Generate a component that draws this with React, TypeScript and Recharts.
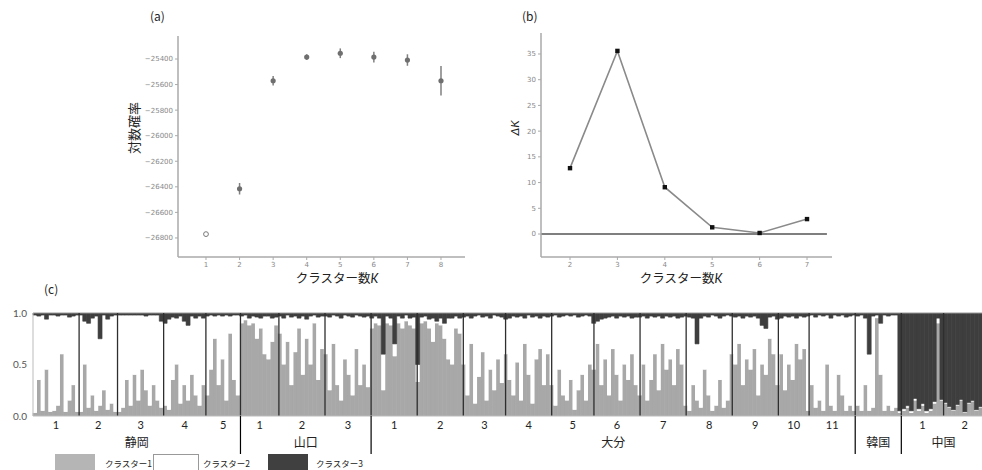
import React from 'react';
import { ScatterChart, Scatter, XAxis, YAxis, ErrorBar, LineChart, Line, ReferenceLine, BarChart, Bar } from 'recharts';

// ---------- (a) log probability vs K ----------
const kValuesA = [1, 2, 3, 4, 5, 6, 7, 8];
const logProbMean = [-26770, -26415, -25570, -25385, -25355, -25385, -25408, -25570];
const logProbSd = [0, 45, 38, 22, 38, 42, 45, 115];
const logProbTicks = [-26800, -26600, -26400, -26200, -26000, -25800, -25600, -25400];

// ---------- (b) delta K ----------
const kValuesB = [2, 3, 4, 5, 6, 7];
const deltaK = [12.8, 35.6, 9.1, 1.3, 0.2, 2.9];
const deltaKTicks = [0, 5, 10, 15, 20, 25, 30, 35];

// ---------- (c) STRUCTURE bar plot ----------
const popLabels = ['1', '2', '3', '4', '5', '1', '2', '3', '1', '2', '3', '4', '5', '6', '7', '8', '9', '10', '11', '', '1', '2'];
const regionNames = ['静岡', '山口', '大分', '韓国', '中国'];
const regionPopCounts = [5, 3, 11, 1, 2];
const clusterTicks = [0, 0.5, 1];

const cluster1ByPop = [
  [0.03, 0.35, 0.05, 0.45, 0.04, 0.05, 0.1, 0.6, 0.04, 0.15, 0.3, 0.04],
  [0.04, 0.5, 0.08, 0.2, 0.05, 0.1, 0.25, 0.06, 0.12, 0.04],
  [0.04, 0.08, 0.35, 0.1, 0.4, 0.15, 0.45, 0.25, 0.1, 0.3, 0.15, 0.08],
  [0.1, 0.06, 0.35, 0.5, 0.12, 0.3, 0.15, 0.4, 0.2, 0.1, 0.3],
  [0.2, 0.45, 0.75, 0.3, 0.55, 0.15, 0.8, 0.35, 0.2],
  [0.9, 0.93, 0.88, 0.9, 0.75, 0.85, 0.6, 0.55, 0.72, 0.88],
  [0.8, 0.5, 0.72, 0.3, 0.62, 0.85, 0.4, 0.75, 0.5, 0.9, 0.35, 0.65],
  [0.6, 0.25, 0.7, 0.3, 0.15, 0.55, 0.4, 0.2, 0.65, 0.3, 0.5, 0.28],
  [0.85, 0.9, 0.88, 0.25, 0.9, 0.88, 0.58, 0.9, 0.85, 0.92, 0.88, 0.85],
  [0.33, 0.9, 0.92, 0.85, 0.72, 0.9, 0.88, 0.75, 0.55, 0.5, 0.85, 0.8],
  [0.5, 0.2, 0.7, 0.12, 0.38, 0.62, 0.15, 0.45, 0.25, 0.55, 0.32],
  [0.6, 0.35, 0.2, 0.52, 0.15, 0.7, 0.4, 0.12, 0.55, 0.65, 0.3, 0.6],
  [0.3, 0.1, 0.45, 0.2, 0.15, 0.35, 0.06, 0.25, 0.4, 0.15, 0.5],
  [0.45, 0.7, 0.3, 0.55, 0.2, 0.65, 0.4, 0.15, 0.5, 0.35, 0.6, 0.3],
  [0.2, 0.5, 0.15, 0.35, 0.6, 0.25, 0.7, 0.45, 0.55, 0.3, 0.65, 0.5],
  [0.1, 0.05, 0.3, 0.15, 0.08, 0.45, 0.2, 0.05, 0.1, 0.35, 0.08, 0.15],
  [0.6, 0.5, 0.7, 0.3, 0.55, 0.45, 0.65, 0.2, 0.5, 0.4, 0.75, 0.6],
  [0.3, 0.6, 0.25, 0.5, 0.35, 0.7, 0.55, 0.65],
  [0.05, 0.3, 0.08, 0.15, 0.05, 0.5, 0.1, 0.05, 0.4, 0.2, 0.05, 0.1],
  [0.05, 0.1, 0.05, 0.3, 0.05, 0.08, 0.95, 0.4, 0.05, 0.1, 0.05, 0.08],
  [0.03, 0.05, 0.08, 0.03, 0.15, 0.05, 0.1, 0.03, 0.05, 0.12, 0.9],
  [0.15, 0.12, 0.08, 0.05, 0.1, 0.15, 0.03, 0.12, 0.14, 0.05, 0.08],
];

const cluster3ByPop = [
  [0.02, 0.03, 0.02, 0.06, 0.02, 0.02, 0.03, 0.02, 0.02, 0.04, 0.03, 0.02],
  [0.02, 0.08, 0.1, 0.05, 0.03, 0.25, 0.02, 0.06, 0.03, 0.02],
  [0.02, 0.02, 0.02, 0.02, 0.02, 0.02, 0.02, 0.03, 0.02, 0.02, 0.02, 0.08],
  [0.1, 0.06, 0.04, 0.05, 0.03, 0.08, 0.12, 0.03, 0.05, 0.03, 0.05],
  [0.03, 0.02, 0.03, 0.02, 0.03, 0.02, 0.03, 0.02, 0.02],
  [0.03, 0.02, 0.05, 0.03, 0.04, 0.05, 0.03, 0.03, 0.05, 0.04],
  [0.03, 0.05, 0.02, 0.04, 0.03, 0.05, 0.03, 0.06, 0.03, 0.02, 0.04, 0.03],
  [0.03, 0.04, 0.02, 0.03, 0.05, 0.02, 0.03, 0.04, 0.02, 0.03, 0.04, 0.03],
  [0.05, 0.03, 0.05, 0.4, 0.03, 0.05, 0.3, 0.03, 0.05, 0.02, 0.05, 0.04],
  [0.5, 0.04, 0.03, 0.06, 0.05, 0.08, 0.05, 0.1, 0.05, 0.05, 0.03, 0.05],
  [0.04, 0.03, 0.05, 0.03, 0.02, 0.04, 0.03, 0.05, 0.02, 0.03, 0.04],
  [0.06, 0.05, 0.03, 0.04, 0.03, 0.05, 0.02, 0.04, 0.03, 0.05, 0.03, 0.04],
  [0.03, 0.02, 0.04, 0.03, 0.02, 0.03, 0.02, 0.04, 0.03, 0.02, 0.03],
  [0.1, 0.08, 0.06, 0.05, 0.04, 0.03, 0.05, 0.03, 0.04, 0.03, 0.05, 0.04],
  [0.04, 0.03, 0.05, 0.03, 0.04, 0.03, 0.05, 0.03, 0.04, 0.03, 0.05, 0.04],
  [0.03, 0.04, 0.05, 0.3, 0.05, 0.03, 0.04, 0.02, 0.03, 0.05, 0.03, 0.02],
  [0.03, 0.04, 0.03, 0.05, 0.03, 0.04, 0.03, 0.05, 0.12, 0.15, 0.04, 0.03],
  [0.06, 0.05, 0.03, 0.04, 0.03, 0.05, 0.03, 0.04],
  [0.03, 0.02, 0.04, 0.02, 0.03, 0.02, 0.05, 0.02, 0.03, 0.02, 0.04, 0.03],
  [0.02, 0.03, 0.02, 0.05, 0.4, 0.03, 0.02, 0.1, 0.02, 0.03, 0.02, 0.02],
  [0.95, 0.93, 0.9, 0.95, 0.83, 0.93, 0.88, 0.95, 0.93, 0.86, 0.05],
  [0.84, 0.87, 0.91, 0.94, 0.89, 0.84, 0.96, 0.87, 0.85, 0.94, 0.91],
];

// ---------- derived tables ----------
const scatterRows = kValuesA.map((k, i) => ({ k, v: logProbMean[i], err: logProbSd[i] }));
const hollowRows = scatterRows.filter((r) => r.k === 1);
const filledRows = scatterRows.filter((r) => r.k !== 1);
const deltaRows = kValuesB.map((k, i) => ({ k, d: deltaK[i] }));

const popCounts = cluster1ByPop.map((a) => a.length);
const popEnds: number[] = [];
{
  let acc = 0;
  popCounts.forEach((c) => { acc += c; popEnds.push(acc); });
}
const N = popEnds[popEnds.length - 1];
const popStarts = popEnds.map((e, i) => e - popCounts[i]);
const popCenters = popStarts.map((s, i) => s + popCounts[i] / 2);
const popBoundaries = popEnds.slice(0, -1);

const regionEnds: number[] = [];
const regionCenters: number[] = [];
{
  let p = 0;
  regionPopCounts.forEach((rc) => {
    const s = popStarts[p];
    const e = popEnds[p + rc - 1];
    regionEnds.push(e);
    regionCenters.push((s + e) / 2);
    p += rc;
  });
}
const regionBoundaries = regionEnds.slice(0, -1);

const structureRows: { id: number; c1: number; c2: number; c3: number }[] = [];
cluster1ByPop.forEach((arr, p) => {
  arr.forEach((c1, i) => {
    const c3 = cluster3ByPop[p][i];
    structureRows.push({ id: structureRows.length, c1, c2: Math.max(0, 1 - c1 - c3), c3 });
  });
});

const C1 = '#a8a8a8';
const C3 = '#3e3e3e';
const jp = '"Noto Sans CJK JP", "Noto Sans", sans-serif';
const num = 'Lato, "Open Sans", sans-serif';

const FilledDot = (p: any) => <circle cx={p.cx} cy={p.cy} r={2.6} fill="#6f6f6f" />;
const HollowDot = (p: any) => <circle cx={p.cx} cy={p.cy} r={2.4} fill="none" stroke="#777" strokeWidth={1} />;
const SquareDot = (p: any) => <rect x={p.cx - 2.2} y={p.cy - 2.2} width={4.4} height={4.4} fill="#111" />;

const smallTick = { fontSize: 7, fill: '#888', fontFamily: 'DejaVu Sans, sans-serif' };

export default function App() {
  return (
    <div style={{ position: 'absolute', left: 0, top: 0, width: 982, height: 470, background: '#fff', overflow: 'hidden', fontFamily: jp }}>
      {/* (a) */}
      <div style={{ position: 'absolute', left: 0, top: 0 }}>
        <ScatterChart width={480} height={290} margin={{ top: 36, right: 15, bottom: 0, left: 0 }}>
          <XAxis type="number" dataKey="k" domain={[0.166, 8.715]} ticks={kValuesA} allowDataOverflow height={33}
            tickSize={3} tickMargin={2} axisLine={{ stroke: '#aaa', strokeWidth: 1.5 }} tickLine={{ stroke: '#aaa' }} tick={smallTick} />
          <YAxis type="number" dataKey="v" domain={[-26949, -25220]} ticks={logProbTicks} allowDataOverflow width={178}
            tickSize={3} tickMargin={2} axisLine={{ stroke: '#aaa', strokeWidth: 1.5 }} tickLine={{ stroke: '#aaa' }} tick={smallTick}
            tickFormatter={(v: number) => '\u2212' + Math.abs(v)} />
          <Scatter data={filledRows} shape={FilledDot} isAnimationActive={false}>
            <ErrorBar dataKey="err" direction="y" width={0} stroke="#808080" strokeWidth={1.5} isAnimationActive={false} />
          </Scatter>
          <Scatter data={hollowRows} shape={HollowDot} isAnimationActive={false} />
        </ScatterChart>
      </div>

      {/* (b) */}
      <div style={{ position: 'absolute', left: 490, top: 0 }}>
        <LineChart width={350} height={290} data={deltaRows} margin={{ top: 33, right: 8, bottom: 0, left: 0 }}>
          <XAxis type="number" dataKey="k" domain={[1.388, 7.527]} ticks={kValuesB} allowDataOverflow height={33}
            tickSize={3} tickMargin={2} axisLine={{ stroke: '#aaa', strokeWidth: 1.5 }} tickLine={{ stroke: '#aaa' }} tick={smallTick} />
          <YAxis type="number" domain={[-4.47, 39.08]} ticks={deltaKTicks} allowDataOverflow width={51}
            tickSize={3} tickMargin={2} axisLine={{ stroke: '#aaa', strokeWidth: 1.5 }} tickLine={{ stroke: '#aaa' }} tick={smallTick} />
          <ReferenceLine segment={[{ x: 1.388, y: 0 }, { x: 7.42, y: 0 }]} stroke="#000" strokeWidth={1.2} ifOverflow="visible" />
          <Line dataKey="d" stroke="#8a8a8a" strokeWidth={1.6} dot={SquareDot} isAnimationActive={false} />
        </LineChart>
      </div>

      {/* (c) */}
      <div style={{ position: 'absolute', left: 0, top: 300 }}>
        <BarChart width={982} height={170} data={structureRows} margin={{ top: 13, right: 0, bottom: 15, left: 0 }}
          barCategoryGap={0} barGap={0}>
          <XAxis xAxisId="bd" type="number" domain={[0, N]} ticks={regionBoundaries} height={1} interval={0}
            tickSize={38} tickLine={{ stroke: '#000', strokeWidth: 1.2 }} axisLine={{ stroke: '#bbb' }} tickFormatter={() => ''} />
          <XAxis xAxisId="pop" type="number" domain={[0, N]} ticks={popCenters} height={18} interval={0}
            tickSize={0} tickMargin={4} axisLine={false} tickLine={false}
            tick={{ fontSize: 11, fill: '#222', fontFamily: num }}
            tickFormatter={(_v: number, i: number) => popLabels[i]} />
          <XAxis xAxisId="reg" type="number" domain={[0, N]} ticks={regionCenters} height={20} interval={0}
            tickSize={0} tickMargin={3} axisLine={false} tickLine={false}
            tick={{ fontSize: 12, fill: '#222', fontFamily: jp }}
            tickFormatter={(_v: number, i: number) => regionNames[i]} />
          <XAxis xAxisId="cat" dataKey="id" type="category" hide height={0} />
          <YAxis type="number" domain={[0, 1]} ticks={clusterTicks} width={33} allowDataOverflow
            tickSize={0} tickMargin={6} axisLine={{ stroke: '#bbb' }} tickLine={false}
            tick={{ fontSize: 10, fill: '#555', fontFamily: num }} tickFormatter={(v: number) => v.toFixed(1)} />
          <Bar xAxisId="cat" dataKey="c1" stackId="s" fill={C1} stroke={C1} strokeWidth={0.6} isAnimationActive={false} />
          <Bar xAxisId="cat" dataKey="c2" stackId="s" fill="#ffffff" isAnimationActive={false} />
          <Bar xAxisId="cat" dataKey="c3" stackId="s" fill={C3} stroke={C3} strokeWidth={0.6} isAnimationActive={false} />
          <ReferenceLine xAxisId="bd" y={1} stroke="#999" strokeWidth={1} />
          {popBoundaries.map((b) => (
            <ReferenceLine key={b} xAxisId="bd" x={b} stroke="#2e2e2e" strokeWidth={1.3} />
          ))}
        </BarChart>
      </div>

      {/* titles and axis labels */}
      <div style={{ position: 'absolute', left: 150, top: 7, fontSize: 12, color: '#222' }}>(a)</div>
      <div style={{ position: 'absolute', left: 522, top: 7, fontSize: 12, color: '#222' }}>(b)</div>
      <div style={{ position: 'absolute', left: 44, top: 280, fontSize: 12, color: '#222' }}>(c)</div>

      <div style={{ position: 'absolute', left: 133, top: 128, transform: 'translate(-50%, -50%) rotate(-90deg)', fontSize: 13, color: '#222', whiteSpace: 'nowrap' }}>対数確率</div>
      <div style={{ position: 'absolute', left: 337, top: 278, transform: 'translate(-50%, -50%)', fontSize: 12.5, lineHeight: '14px', color: '#222', whiteSpace: 'nowrap' }}>
        クラスター数<span style={{ fontStyle: 'italic', fontFamily: num }}>K</span>
      </div>
      <div style={{ position: 'absolute', left: 514, top: 128, transform: 'translate(-50%, -50%) rotate(-90deg)', fontSize: 12, color: '#222', whiteSpace: 'nowrap', fontStyle: 'italic', fontFamily: num }}>ΔK</div>
      <div style={{ position: 'absolute', left: 681, top: 278, transform: 'translate(-50%, -50%)', fontSize: 12.5, lineHeight: '14px', color: '#222', whiteSpace: 'nowrap' }}>
        クラスター数<span style={{ fontStyle: 'italic', fontFamily: num }}>K</span>
      </div>

      {/* legend */}
      <div style={{ position: 'absolute', left: 55, top: 454, width: 40, height: 18, background: '#b5b5b5' }} />
      <div style={{ position: 'absolute', left: 105, top: 457, fontSize: 8.5, color: '#222', whiteSpace: 'nowrap' }}>クラスター1</div>
      <div style={{ position: 'absolute', left: 153, top: 454, width: 46, height: 18, background: '#fff', border: '1px solid #999', boxSizing: 'border-box' }} />
      <div style={{ position: 'absolute', left: 203, top: 457, fontSize: 8.5, color: '#222', whiteSpace: 'nowrap' }}>クラスター2</div>
      <div style={{ position: 'absolute', left: 268, top: 454, width: 40, height: 18, background: '#404040' }} />
      <div style={{ position: 'absolute', left: 316, top: 457, fontSize: 8.5, color: '#222', whiteSpace: 'nowrap' }}>クラスター3</div>
    </div>
  );
}
